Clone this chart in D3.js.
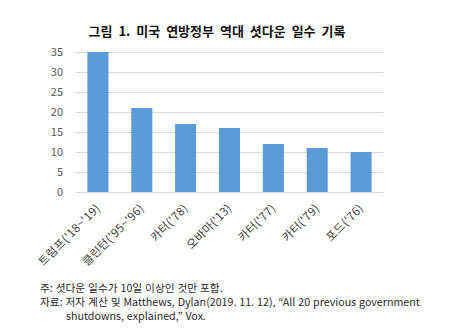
<!DOCTYPE html>
<html><head><meta charset="utf-8">
<script src="https://cdn.jsdelivr.net/npm/d3@7"></script>
<style>body{margin:0;background:#fff}</style>
</head><body>
<svg id="c" width="460" height="334"></svg>
<script>
const categories = ["트럼프('18~'19)","클린턴('95~'96)","카터('78)","오바마('13)","카터('77)","카터('79)","포드('76)"];
const days = [35, 21, 17, 16, 12, 11, 10];
const yTicks = [0,5,10,15,20,25,30,35];
const title = "그림 1. 미국 연방정부 역대 셧다운 일수 기록";
const notes = ["주: 셧다운 일수가 10일 이상인 것만 포함.",
  "자료: 저자 계산 및 Matthews, Dylan(2019. 11. 12), “All 20 previous government",
  "shutdowns, explained,” Vox."];

const font = "'Noto Sans CJK KR','Noto Sans',sans-serif";
const svg = d3.select("#c");
const m = {left:76, right:383, top:52, bottom:192};
const x = d3.scaleBand().domain(categories).range([m.left, m.right]).paddingInner(0.52).paddingOuter(0.26);
const y = d3.scaleLinear().domain([0,35]).range([m.bottom, m.top]);

svg.append("text").attr("x",217).attr("y",36).attr("text-anchor","middle")
  .attr("font-family",font).attr("font-weight","bold").attr("font-size",13).attr("fill","#111")
  .attr("word-spacing",3).text(title);

const ya = svg.append("g").attr("transform",`translate(${m.left},0)`)
  .call(d3.axisLeft(y).tickValues(yTicks).tickSize(-(m.right-m.left)).tickPadding(13));
ya.select(".domain").remove();
ya.selectAll(".tick line").attr("stroke","#d9d9d9");
ya.selectAll(".tick text").attr("font-family",font).attr("font-size",11).attr("fill","#595959");

svg.append("g").selectAll("rect").data(days).join("rect")
  .attr("x",(d,i)=>x(categories[i])).attr("width",x.bandwidth())
  .attr("y",d=>y(d)).attr("height",d=>y(0)-y(d)).attr("fill","#5b9bd5");

svg.append("g").selectAll("text").data(categories).join("text")
  .attr("transform",d=>`translate(${x(d)+x.bandwidth()/2+3},${m.bottom+17}) rotate(-45)`)
  .attr("text-anchor","end").attr("font-family",font).attr("font-size",11.5).attr("fill","#404040")
  .attr("letter-spacing",0.3).text(d=>d);

const nx = [40, 40, 66], ny = [292, 306, 320];
svg.append("g").selectAll("text").data(notes).join("text")
  .attr("x",(d,i)=>nx[i]).attr("y",(d,i)=>ny[i])
  .attr("font-family",font).attr("font-size",10.7).attr("fill","#2a2a2a")
  .attr("word-spacing",0.5).text(d=>d);
</script>
</body></html>
